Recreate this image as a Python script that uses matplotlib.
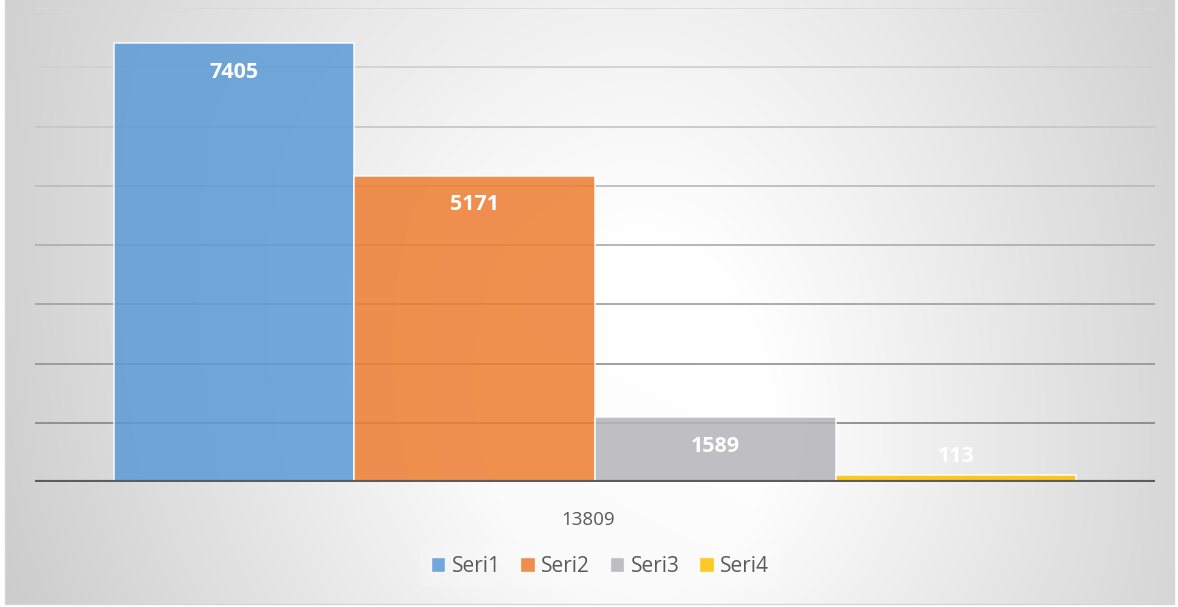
import numpy as np
import matplotlib
matplotlib.use('Agg')
import matplotlib.pyplot as plt
import matplotlib.patches as mpatches

plt.rcParams['font.family'] = ['Open Sans', 'DejaVu Sans']

# data
category = '13809'
series = ['Seri1', 'Seri2', 'Seri3', 'Seri4']
values = [7405, 5171, 1090, 113]          # bar heights as drawn in the picture
value_labels = ['7405', '5171', '1589', '113']  # data label texts as shown
colors = ['#5b9bd5', '#ed7d31', '#b4b4b9', '#ffc000']

W, H = 1178, 607
fig = plt.figure(figsize=(W / 100, H / 100), dpi=100, facecolor='white')

# radial grey background like the excel chart area
yy, xx = np.mgrid[0:H, 0:W]
rx = np.where(xx < 640, 760.0, 640.0)
ry = np.where(yy < 440, 1000.0, 760.0)
d = np.sqrt(((xx - 640) / rx) ** 2 + ((yy - 440) / ry) ** 2)
shade = 255 - (255 - 196) * np.clip((d - 0.2) / 0.95, 0, 1)
# slightly darker toward lower left
shade = shade - 10 * np.clip((yy / H) - (xx / W), 0, 1)
shade = np.clip(shade, 192, 255)
inside = (xx >= 5) & (xx <= 1174) & (yy <= 603)
shade = np.where(inside, shade, 255)
img = np.dstack([shade, shade, shade]).astype(np.uint8)

bg = fig.add_axes([0, 0, 1, 1], zorder=-5)
bg.imshow(img, extent=[0, W, H, 0], aspect='auto', interpolation='bilinear')
bg.add_patch(mpatches.Rectangle((5, -2), 1169, 605.5, fill=False, edgecolor='#d6d6d6', lw=1))
bg.set_xlim(0, W)
bg.set_ylim(H, 0)
bg.axis('off')

ax = fig.add_axes([35 / W, 125 / H, 1120 / W, 474 / H])
ax.patch.set_alpha(0)
ax.set_xlim(-0.5, 0.5)
ax.set_ylim(0, 8000)

grid_cols = ['#8a8a8a', '#979797', '#a4a4a4', '#b0b0b0', '#bcbcbc', '#c7c7c7', '#d1d1d1', '#d9d9d9']
for lvl, gc in zip(range(1000, 8001, 1000), grid_cols):
    ax.axhline(lvl, color=gc, lw=1.3, zorder=1)

w = 0.2148
px_per_val = 474 / 8000
for i, (v, c, lab) in enumerate(zip(values, colors, value_labels)):
    x = (i - 1.5) * w
    ax.bar(x, v, width=w, color=c, alpha=0.85, edgecolor=(1, 1, 1, 0.35), linewidth=1.2, zorder=3)
    if v * px_per_val > 55:
        ax.annotate(lab, (x, v), xytext=(0, -29 * 0.72), textcoords='offset points',
                    ha='center', va='center', color='white', fontsize=15.5, fontweight='bold', zorder=5)
    else:
        ax.annotate(lab, (x, 0), xytext=(0, 25 * 0.72), textcoords='offset points',
                    ha='center', va='center', color='white', fontsize=15.5, fontweight='bold', zorder=5)

ax.axhline(0, color='#5c5c5c', lw=3.0, zorder=4)

ax.set_xticks([-0.006])
ax.set_xticklabels([category], fontsize=13.5, color='#595959')
ax.tick_params(axis='x', length=0, pad=21)
ax.set_yticks([])
for s in ax.spines.values():
    s.set_visible(False)

handles = [mpatches.Patch(facecolor=c, alpha=0.85, edgecolor=(1, 1, 1, 0.5), label=s)
           for s, c in zip(series, colors)]
leg = fig.legend(handles=handles, loc='center', bbox_to_anchor=(600 / W, 1 - 566 / H), ncol=4,
                 fontsize=15, labelcolor='#595959', frameon=True, handlelength=0.7,
                 handleheight=0.7, handletextpad=0.3, columnspacing=0.95, borderpad=0.5)
leg.get_frame().set_facecolor('white')
leg.get_frame().set_alpha(0.2)
leg.get_frame().set_edgecolor('none')

fig.savefig('out.png', dpi=100, facecolor='white')
